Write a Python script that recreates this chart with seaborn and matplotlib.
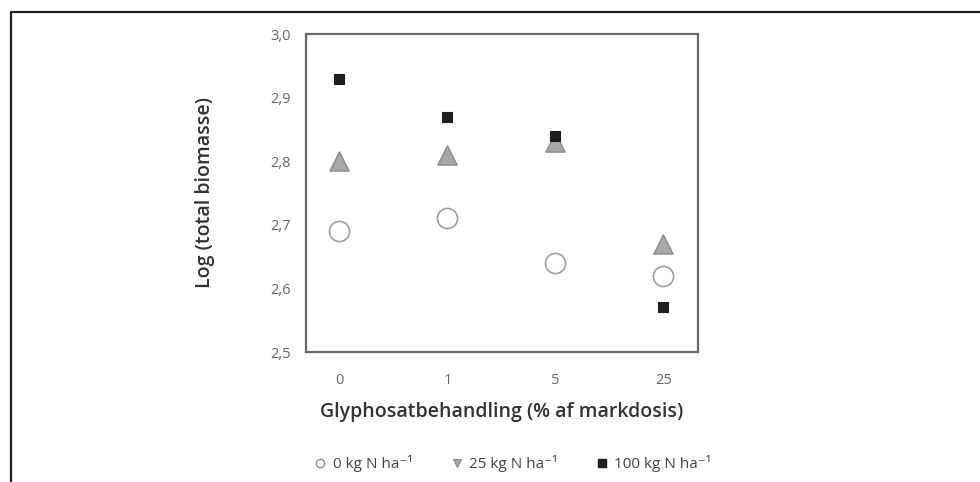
import matplotlib
matplotlib.use("Agg")
import matplotlib.pyplot as plt
from matplotlib.lines import Line2D
import seaborn as sns
import pandas as pd

# Glyphosate treatment (% of label dose) and log total biomass per N level
doses = ["0", "1", "5", "25"]
n0_kg = [2.69, 2.71, 2.64, 2.62]
n25_kg = [2.80, 2.81, 2.83, 2.67]
n100_kg = [2.93, 2.87, 2.84, 2.57]
series_labels = ["0 kg N ha\u207b\u00b9", "25 kg N ha\u207b\u00b9", "100 kg N ha\u207b\u00b9"]
y_ticks = [2.5, 2.6, 2.7, 2.8, 2.9, 3.0]
y_tick_labels = ["2,5", "2,6", "2,7", "2,8", "2,9", "3,0"]

sns.set_theme(style="white")
plt.rcParams["font.family"] = ["Open Sans", "DejaVu Sans"]

frames = []
for lab, vals in zip(series_labels, [n0_kg, n25_kg, n100_kg]):
    frames.append(pd.DataFrame({"dose": doses, "biomass": vals, "N": lab}))
df = pd.concat(frames, ignore_index=True)
df["pos"] = df["dose"].map({d: i for i, d in enumerate(doses)})

fig = plt.figure(figsize=(9.8, 4.82), dpi=100)
ax = fig.add_axes([306 / 980, 1 - 352 / 482, 392 / 980, 318 / 482])

styles = {
    series_labels[0]: dict(marker="o", s=210, color="white", edgecolor="#a0a0a0", linewidth=1.2, zorder=3),
    series_labels[1]: dict(marker="^", s=190, color="#a8a8a8", edgecolor="#8a8a8a", linewidth=1.0, zorder=4),
    series_labels[2]: dict(marker="s", s=60, color="#1e1e1e", edgecolor="#1e1e1e", linewidth=0.8, zorder=5),
}
for lab in series_labels:
    sub = df[df["N"] == lab]
    sns.scatterplot(data=sub, x="pos", y="biomass", ax=ax, legend=False, **styles[lab])

ax.set_xlim(-0.31, 3.32)
ax.set_ylim(2.5, 3.0)
ax.set_xticks(range(len(doses)))
ax.set_xticklabels(doses)
ax.set_yticks(y_ticks)
ax.set_yticklabels(y_tick_labels)

for sp in ax.spines.values():
    sp.set_visible(True)
    sp.set_color("#6a6a6a")
    sp.set_linewidth(1.6)

ax.tick_params(axis="both", direction="out", length=5, width=1.2, color="#6a6a6a",
               labelsize=10.5, labelcolor="#666666", pad=6)
ax.tick_params(axis="x", pad=10)

ax.set_xlabel("Glyphosatbehandling (% af markdosis)", fontsize=14, color="#333333",
              fontweight="semibold", labelpad=10)
ax.set_ylabel("Log (total biomasse)", fontsize=14, color="#333333",
              fontweight="semibold", labelpad=40)

handles = [
    Line2D([], [], linestyle="none", marker="o", markersize=6, markerfacecolor="white",
           markeredgecolor="#909090", markeredgewidth=1.0),
    Line2D([], [], linestyle="none", marker="v", markersize=6, markerfacecolor="#a8a8a8",
           markeredgecolor="#8a8a8a", markeredgewidth=0.8),
    Line2D([], [], linestyle="none", marker="s", markersize=5.5, markerfacecolor="#1e1e1e",
           markeredgecolor="#1e1e1e"),
]
fig.legend(handles, series_labels, loc="center", bbox_to_anchor=(512 / 980, 1 - 464 / 482),
           ncol=3, frameon=False, fontsize=11, handletextpad=0.3, columnspacing=2.4,
           handlelength=1.0, labelcolor="#444444")

# Page frame: top and left rules
fig.add_artist(Line2D([10.5 / 980, 1.0], [1 - 11.5 / 482, 1 - 11.5 / 482],
                      transform=fig.transFigure, color="#222222", linewidth=1.6))
fig.add_artist(Line2D([10.5 / 980, 10.5 / 980], [0.0, 1 - 11.5 / 482],
                      transform=fig.transFigure, color="#222222", linewidth=1.6))

fig.savefig("out.png", dpi=100)
